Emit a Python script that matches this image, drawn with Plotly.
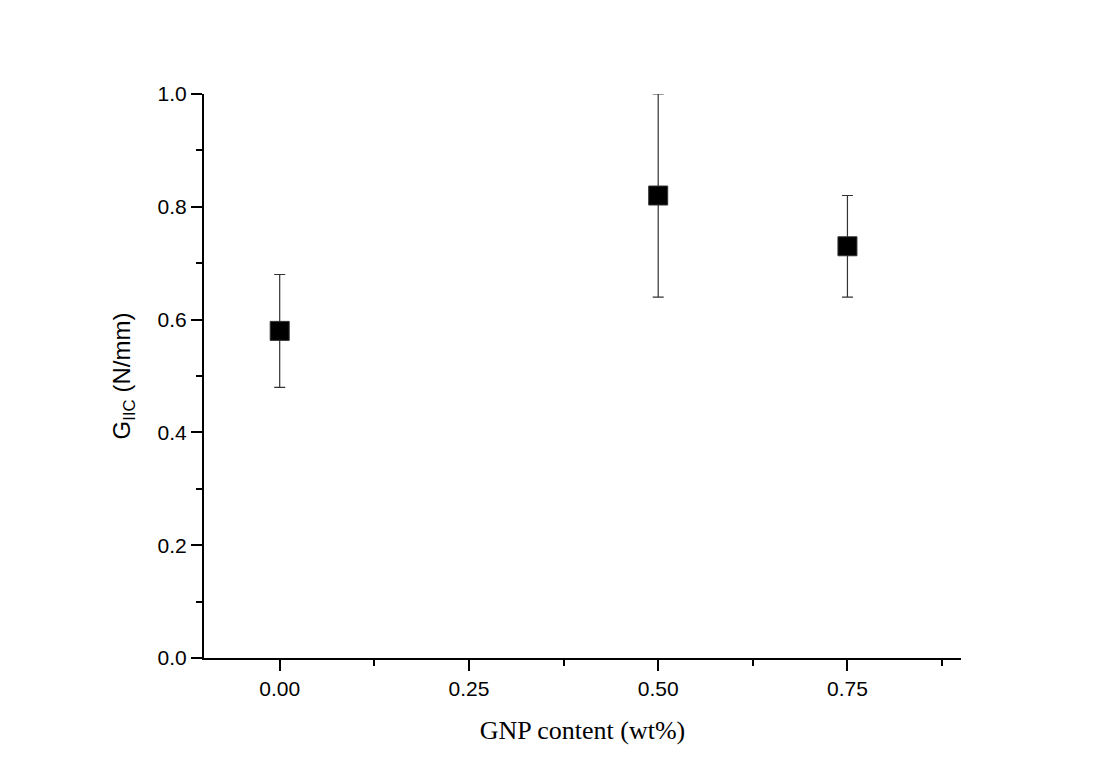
import plotly.graph_objects as go

# GNP loading (wt%) and mode-II fracture toughness
gnp_content = [0.00, 0.50, 0.75]
g_iic = [0.58, 0.82, 0.73]
err_plus = [0.10, 0.18, 0.09]
err_minus = [0.10, 0.18, 0.09]

x_ticks = [0.00, 0.25, 0.50, 0.75]
x_tick_labels = ["0.00", "0.25", "0.50", "0.75"]
y_ticks = [0.0, 0.2, 0.4, 0.6, 0.8, 1.0]
y_tick_labels = ["0.0", "0.2", "0.4", "0.6", "0.8", "1.0"]

fig = go.Figure()
fig.add_trace(go.Scatter(
    x=gnp_content,
    y=g_iic,
    mode="markers",
    marker=dict(symbol="square", size=19, color="black",
                line=dict(color="#333333", width=1)),
    error_y=dict(type="data", symmetric=False, array=err_plus,
                 arrayminus=err_minus, color="#333333",
                 thickness=1.2, width=5.5),
    showlegend=False,
))

axis_font = dict(family="Liberation Sans, Arial", size=21, color="black")

fig.update_layout(
    width=1099,
    height=781,
    margin=dict(l=204, r=138, t=94, b=123),
    paper_bgcolor="white",
    plot_bgcolor="white",
    xaxis=dict(
        range=[-0.1, 0.9],
        tickmode="array",
        tickvals=x_ticks,
        ticktext=x_tick_labels,
        ticks="outside",
        ticklen=11,
        tickwidth=2,
        tickcolor="black",
        showline=True,
        linecolor="black",
        linewidth=2,
        showgrid=False,
        zeroline=False,
        tickfont=axis_font,
        minor=dict(tickvals=[-0.125, 0.125, 0.375, 0.625, 0.875],
                   ticks="outside", ticklen=6, tickwidth=2,
                   tickcolor="black", showgrid=False),
        title=dict(text="GNP content (wt%)",
                   font=dict(family="Liberation Serif, Times New Roman",
                             size=26, color="black"),
                   standoff=22),
    ),
    yaxis=dict(
        range=[0, 1.0],
        tickmode="array",
        tickvals=y_ticks,
        ticktext=y_tick_labels,
        ticks="outside",
        ticklen=11,
        tickwidth=2,
        tickcolor="black",
        showline=True,
        linecolor="black",
        linewidth=2,
        showgrid=False,
        zeroline=False,
        tickfont=axis_font,
        minor=dict(tickvals=[0.1, 0.3, 0.5, 0.7, 0.9],
                   ticks="outside", ticklen=6, tickwidth=2,
                   tickcolor="black", showgrid=False),
        title=dict(text="G<sub>IIC</sub> (N/mm)",
                   font=dict(family="Liberation Sans, Arial",
                             size=24, color="black"),
                   standoff=20),
    ),
)

fig.write_html("out.html")
